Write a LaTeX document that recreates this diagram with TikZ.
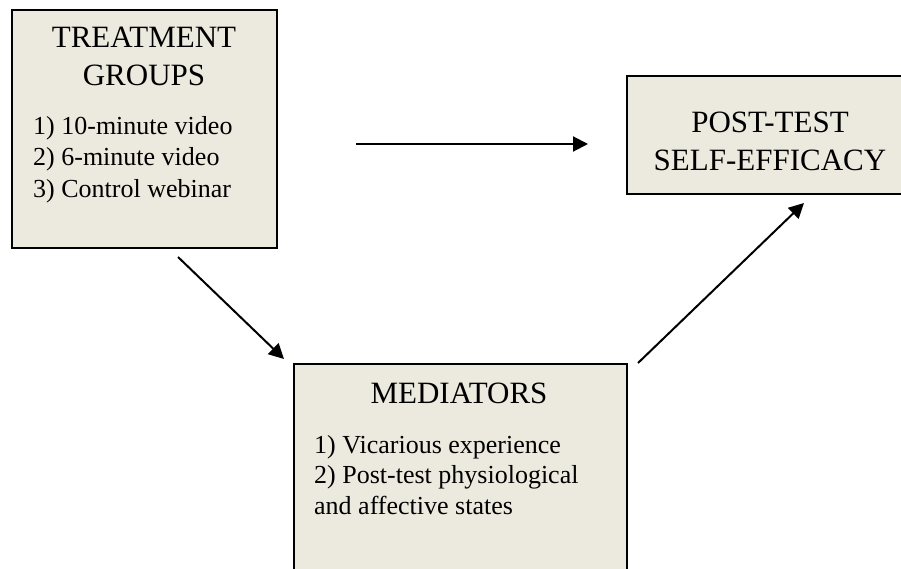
\documentclass[tikz,border=0pt]{standalone}
\usepackage{fontspec}
\setmainfont{Liberation Serif}
\usetikzlibrary{arrows.meta}
\definecolor{boxfill}{RGB}{236,233,223}
\tikzset{
  panel/.style={draw=black, line width=2pt, fill=boxfill, rectangle, anchor=north west, inner sep=0pt},
  head/.style={inner sep=0pt, anchor=base, font=\fontsize{31}{38}\selectfont},
  item/.style={inner sep=0pt, anchor=base west, font=\fontsize{26}{31}\selectfont},
  link/.style={line width=2pt, -{Triangle[length=15pt,width=15pt]}}
}
\begin{document}
\begin{tikzpicture}[x=1pt,y=-1pt]
\useasboundingbox (0,0) rectangle (901,569);
\clip (0,0) rectangle (901,569);
% boxes
\node[panel, minimum width=265pt, minimum height=238pt] (treat) at (11,9) {};
\node[panel, minimum width=288pt, minimum height=118pt] (post) at (626,75) {};
\node[panel, minimum width=333pt, minimum height=240pt] (med) at (293,363) {};
% texts
\node[head] (t1) at (144,48) {TREATMENT};
\node[head] (t2) at (144,86) {GROUPS};
\node[item] (t3) at (33,135) {1) 10-minute video};
\node[item] (t4) at (33,166) {2) 6-minute video};
\node[item] (t5) at (33,198) {3) Control webinar};
\node[head] (p1) at (770,133) {POST-TEST};
\node[head] (p2) at (770,171) {SELF-EFFICACY};
\node[head] (m1) at (459,403) {MEDIATORS};
\node[item] (m2) at (314,453) {1) Vicarious experience};
\node[item] (m3) at (314,483) {2) Post-test physiological};
\node[item] (m4) at (314,514) {and affective states};
% connector ends
\coordinate (a1s) at (356,144);
\coordinate (a1e) at (588,144);
\coordinate (a2s) at (178,257);
\coordinate (a2e) at (284,359);
\coordinate (a3s) at (638,363);
\coordinate (a3e) at (804,203);
\draw[link] (a1s) -- (a1e);
\draw[link] (a2s) -- (a2e);
\draw[link] (a3s) -- (a3e);
\end{tikzpicture}
\end{document}
